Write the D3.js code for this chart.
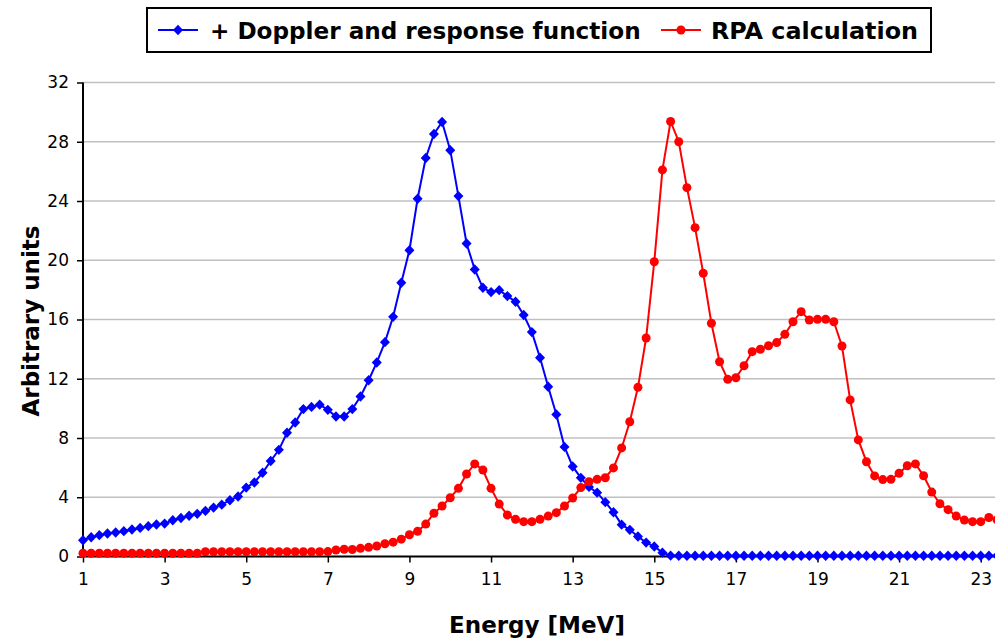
<!DOCTYPE html>
<html><head><meta charset="utf-8">
<script src="https://cdn.jsdelivr.net/npm/d3@7"></script>
<style>html,body{margin:0;padding:0;background:#fff;overflow:hidden}</style>
</head><body>
<svg id="chart" width="995" height="644"></svg>
<script>
// Energy grid (MeV)
const energy = [1.0,1.2,1.4,1.6,1.8,2.0,2.2,2.4,2.6,2.8,3.0,3.2,3.4,3.6,3.8,4.0,4.2,4.4,4.6,4.8,
5.0,5.2,5.4,5.6,5.8,6.0,6.2,6.4,6.6,6.8,7.0,7.2,7.4,7.6,7.8,8.0,8.2,8.4,8.6,8.8,
9.0,9.2,9.4,9.6,9.8,10.0,10.2,10.4,10.6,10.8,11.0,11.2,11.4,11.6,11.8,12.0,12.2,12.4,12.6,12.8,
13.0,13.2,13.4,13.6,13.8,14.0,14.2,14.4,14.6,14.8,15.0,15.2,15.4,15.6,15.8,16.0,16.2,16.4,16.6,16.8,
17.0,17.2,17.4,17.6,17.8,18.0,18.2,18.4,18.6,18.8,19.0,19.2,19.4,19.6,19.8,20.0,20.2,20.4,20.6,20.8,
21.0,21.2,21.4,21.6,21.8,22.0,22.2,22.4,22.6,22.8,23.0,23.2,23.4];

// "+ Doppler and response function" (blue diamonds)
const dopplerValues = [1.10,1.30,1.44,1.55,1.62,1.71,1.82,1.93,2.05,2.16,2.22,2.45,2.60,2.75,2.88,3.08,3.30,3.50,3.80,4.05,
4.65,5.00,5.65,6.45,7.20,8.35,9.05,9.95,10.10,10.25,9.90,9.45,9.45,9.95,10.80,11.90,13.10,14.47,16.18,18.48,
20.68,24.15,26.90,28.52,29.33,27.43,24.33,21.13,19.38,18.14,17.85,17.98,17.58,17.20,16.30,15.15,13.42,11.46,9.59,7.40,
6.08,5.31,4.70,4.31,3.67,2.99,2.15,1.80,1.35,0.94,0.68,0.26,0.06,0.05,0.05,0.05,0.05,0.05,0.05,0.05,
0.05,0.05,0.05,0.05,0.05,0.05,0.05,0.05,0.05,0.05,0.05,0.05,0.05,0.05,0.05,0.05,0.05,0.05,0.05,0.05,
0.05,0.05,0.05,0.05,0.05,0.05,0.05,0.05,0.05,0.05,0.05,0.05,0.05];

// "RPA calculation" (red circles)
const rpaValues = [0.22,0.22,0.22,0.22,0.22,0.22,0.22,0.22,0.22,0.22,0.22,0.22,0.22,0.22,0.22,0.32,0.32,0.32,0.32,0.32,
0.32,0.32,0.32,0.32,0.32,0.32,0.32,0.32,0.32,0.32,0.33,0.44,0.49,0.47,0.55,0.62,0.71,0.86,0.97,1.17,
1.47,1.70,2.19,2.92,3.41,3.97,4.60,5.57,6.25,5.84,4.60,3.54,2.80,2.51,2.35,2.35,2.51,2.73,2.96,3.41,
3.95,4.65,5.05,5.21,5.32,5.98,7.33,9.10,11.42,14.75,19.90,26.10,29.37,28.00,24.90,22.20,19.12,15.75,13.15,11.96,
12.07,12.88,13.83,13.99,14.23,14.44,15.00,15.85,16.53,15.97,16.01,16.01,15.85,14.21,10.57,7.87,6.40,5.44,5.19,5.21,
5.62,6.13,6.25,5.45,4.35,3.56,3.16,2.73,2.46,2.35,2.35,2.63,2.48];

const xTicks = [1,3,5,7,9,11,13,15,17,19,21,23];
const yTicks = [0,4,8,12,16,20,24,28,32];
const seriesNames = ["+ Doppler and response function", "RPA calculation"];

const svg = d3.select("#chart");
const FONT = "Tahoma, 'DejaVu Sans', Verdana, sans-serif";
const pLeft = 83, pRight = 995, pTop = 82.5, pBottom = 556.5;
const x = d3.scaleLinear().domain([1, 23.35]).range([pLeft, pRight]);
const y = d3.scaleLinear().domain([0, 32]).range([pBottom, pTop]);

// gridlines
svg.append("g").selectAll("line").data(yTicks.filter(d => d > 0)).join("line")
  .attr("x1", pLeft).attr("x2", pRight)
  .attr("y1", d => y(d)).attr("y2", d => y(d))
  .attr("stroke", "#c0c0c0").attr("stroke-width", 1.3);

// axes
const yAxis = svg.append("g").attr("transform", `translate(${pLeft},0)`)
  .call(d3.axisLeft(y).tickValues(yTicks).tickSize(6).tickPadding(8).tickFormat(d3.format("d")));
const xAxis = svg.append("g").attr("transform", `translate(0,${pBottom})`)
  .call(d3.axisBottom(x).tickValues(xTicks).tickSize(6).tickPadding(10).tickFormat(d3.format("d")));
[xAxis, yAxis].forEach(a => {
  a.select(".domain").attr("stroke", "#000").attr("stroke-width", 2);
  a.selectAll(".tick line").attr("stroke", "#000").attr("stroke-width", 1.5);
  a.selectAll(".tick text").attr("fill", "#000").style("font-family", FONT).style("font-size", "17px");
});
xAxis.select(".domain").attr("d", `M${pLeft},0H${pRight}`);
yAxis.select(".domain").attr("d", `M0,${pBottom}V${pTop}`);

const diamond = "M0,-5.2L5,0L0,5.2L-5,0Z";
function drawSeries(vals, color, marker) {
  const data = energy.map((e, i) => [e, vals[i]]);
  const g = svg.append("g");
  g.append("path").datum(data)
    .attr("fill", "none").attr("stroke", color).attr("stroke-width", 2)
    .attr("d", d3.line().x(d => x(d[0])).y(d => y(d[1])));
  if (marker === "diamond") {
    g.selectAll("path.m").data(data).join("path").attr("class", "m")
      .attr("d", diamond).attr("fill", color)
      .attr("transform", d => `translate(${x(d[0])},${y(d[1])})`);
  } else {
    g.selectAll("circle").data(data).join("circle")
      .attr("cx", d => x(d[0])).attr("cy", d => y(d[1])).attr("r", 4.5).attr("fill", color);
  }
}
drawSeries(dopplerValues, "#0000ff", "diamond");
drawSeries(rpaValues, "#ff0000", "circle");

// axis titles
svg.append("text").attr("x", 537).attr("y", 633).attr("text-anchor", "middle")
  .style("font-family", FONT).style("font-weight", "bold").style("font-size", "23px")
  .text("Energy [MeV]");
svg.append("text").attr("transform", "translate(39,321) rotate(-90)").attr("text-anchor", "middle")
  .style("font-family", FONT).style("font-weight", "bold").style("font-size", "23px")
  .text("Arbitrary units");

// legend
const lg = svg.append("g");
lg.append("rect").attr("x", 147).attr("y", 8).attr("width", 784).attr("height", 44)
  .attr("fill", "#fff").attr("stroke", "#000").attr("stroke-width", 2);
const items = [
  {name: seriesNames[0], color: "#0000ff", marker: "diamond", x0: 158, tx: 210, w: 431},
  {name: seriesNames[1], color: "#ff0000", marker: "circle", x0: 661, tx: 711, w: 207}
];
items.forEach(it => {
  lg.append("line").attr("x1", it.x0).attr("x2", it.x0 + 40).attr("y1", 30).attr("y2", 30)
    .attr("stroke", it.color).attr("stroke-width", 2);
  if (it.marker === "diamond") {
    lg.append("path").attr("d", diamond).attr("fill", it.color).attr("transform", `translate(${it.x0 + 20},30)`);
  } else {
    lg.append("circle").attr("cx", it.x0 + 20).attr("cy", 30).attr("r", 4.5).attr("fill", it.color);
  }
  const t = lg.append("text").attr("x", it.tx).attr("y", 38.5)
    .style("font-family", FONT).style("font-weight", "bold").style("font-size", "23px")
    .text(it.name);
  const len = t.node().getComputedTextLength();
  if (len > 0) t.style("font-size", (23 * it.w / len).toFixed(2) + "px");
});
</script>
</body></html>
